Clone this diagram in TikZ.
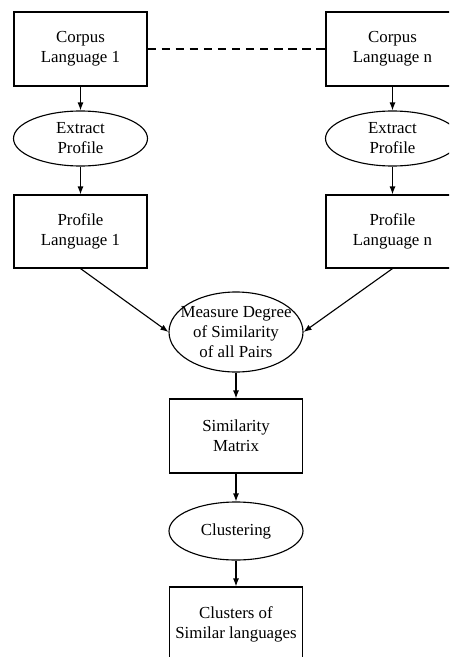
\documentclass[tikz,border=0pt]{standalone}
\usepackage{fontspec}
\setmainfont{Liberation Serif}
\usetikzlibrary{shapes.geometric,arrows.meta}
\tikzset{
    txt/.style={font=\fontsize{12}{14.2}\selectfont, align=center},
    block/.style={txt, draw, rectangle, line width=0.8pt, minimum width=3.325cm, minimum height=1.85cm, inner sep=0pt},
    proc/.style={txt, draw, ellipse, line width=0.8pt, minimum width=3.35cm, inner sep=0pt},
    flow/.style={-{Latex[length=2mm,width=1.5mm]}, line width=0.8pt},
    link/.style={line width=0.8pt, dash pattern=on 6pt off 4pt}
}
\begin{document}
\begin{tikzpicture}
    \clip (0,0) rectangle (11.225,-16.425);
    % language 1
    \node [block] (corpus1) at (2.0125,-1.225) {Corpus\\Language 1};
    \node [proc, minimum height=1.375cm] (extract1) at (2.0125,-3.4625) {Extract\\Profile};
    \node [block, minimum height=1.825cm] (profile1) at (2.0125,-5.7875) {Profile\\Language 1};
    % language n
    \node [block] (corpusn) at (9.8125,-1.225) {Corpus\\Language n};
    \node [proc, minimum height=1.375cm] (extractn) at (9.8125,-3.4625) {Extract\\Profile};
    \node [block, minimum height=1.825cm] (profilen) at (9.8125,-5.7875) {Profile\\Language n};
    % middle
    \node [proc, minimum height=2cm, inner xsep=-2.3mm, inner ysep=-0.5mm] (measure) at (5.9,-8.3) {Measure Degree\\of Similarity\\of all Pairs};
    \node [block] (simmatrix) at (5.9,-10.9) {Similarity\\Matrix};
    \node [proc, minimum height=1.45cm] (clustering) at (5.9,-13.275) {Clustering};
    \node [block] (clusters) at (5.9,-15.6) {Clusters of\\Similar languages};
    % arrows
    \draw [link] (corpus1.east) -- (corpusn.west);
    \draw [flow] (corpus1) -- (extract1);
    \draw [flow] (extract1) -- (profile1);
    \draw [flow] (corpusn) -- (extractn);
    \draw [flow] (extractn) -- (profilen);
    \draw [flow] (profile1.south) -- (measure.west);
    \draw [flow] (profilen.south) -- (measure.east);
    \draw [flow] (measure) -- (simmatrix);
    \draw [flow] (simmatrix) -- (clustering);
    \draw [flow] (clustering) -- (clusters);
\end{tikzpicture}
\end{document}
